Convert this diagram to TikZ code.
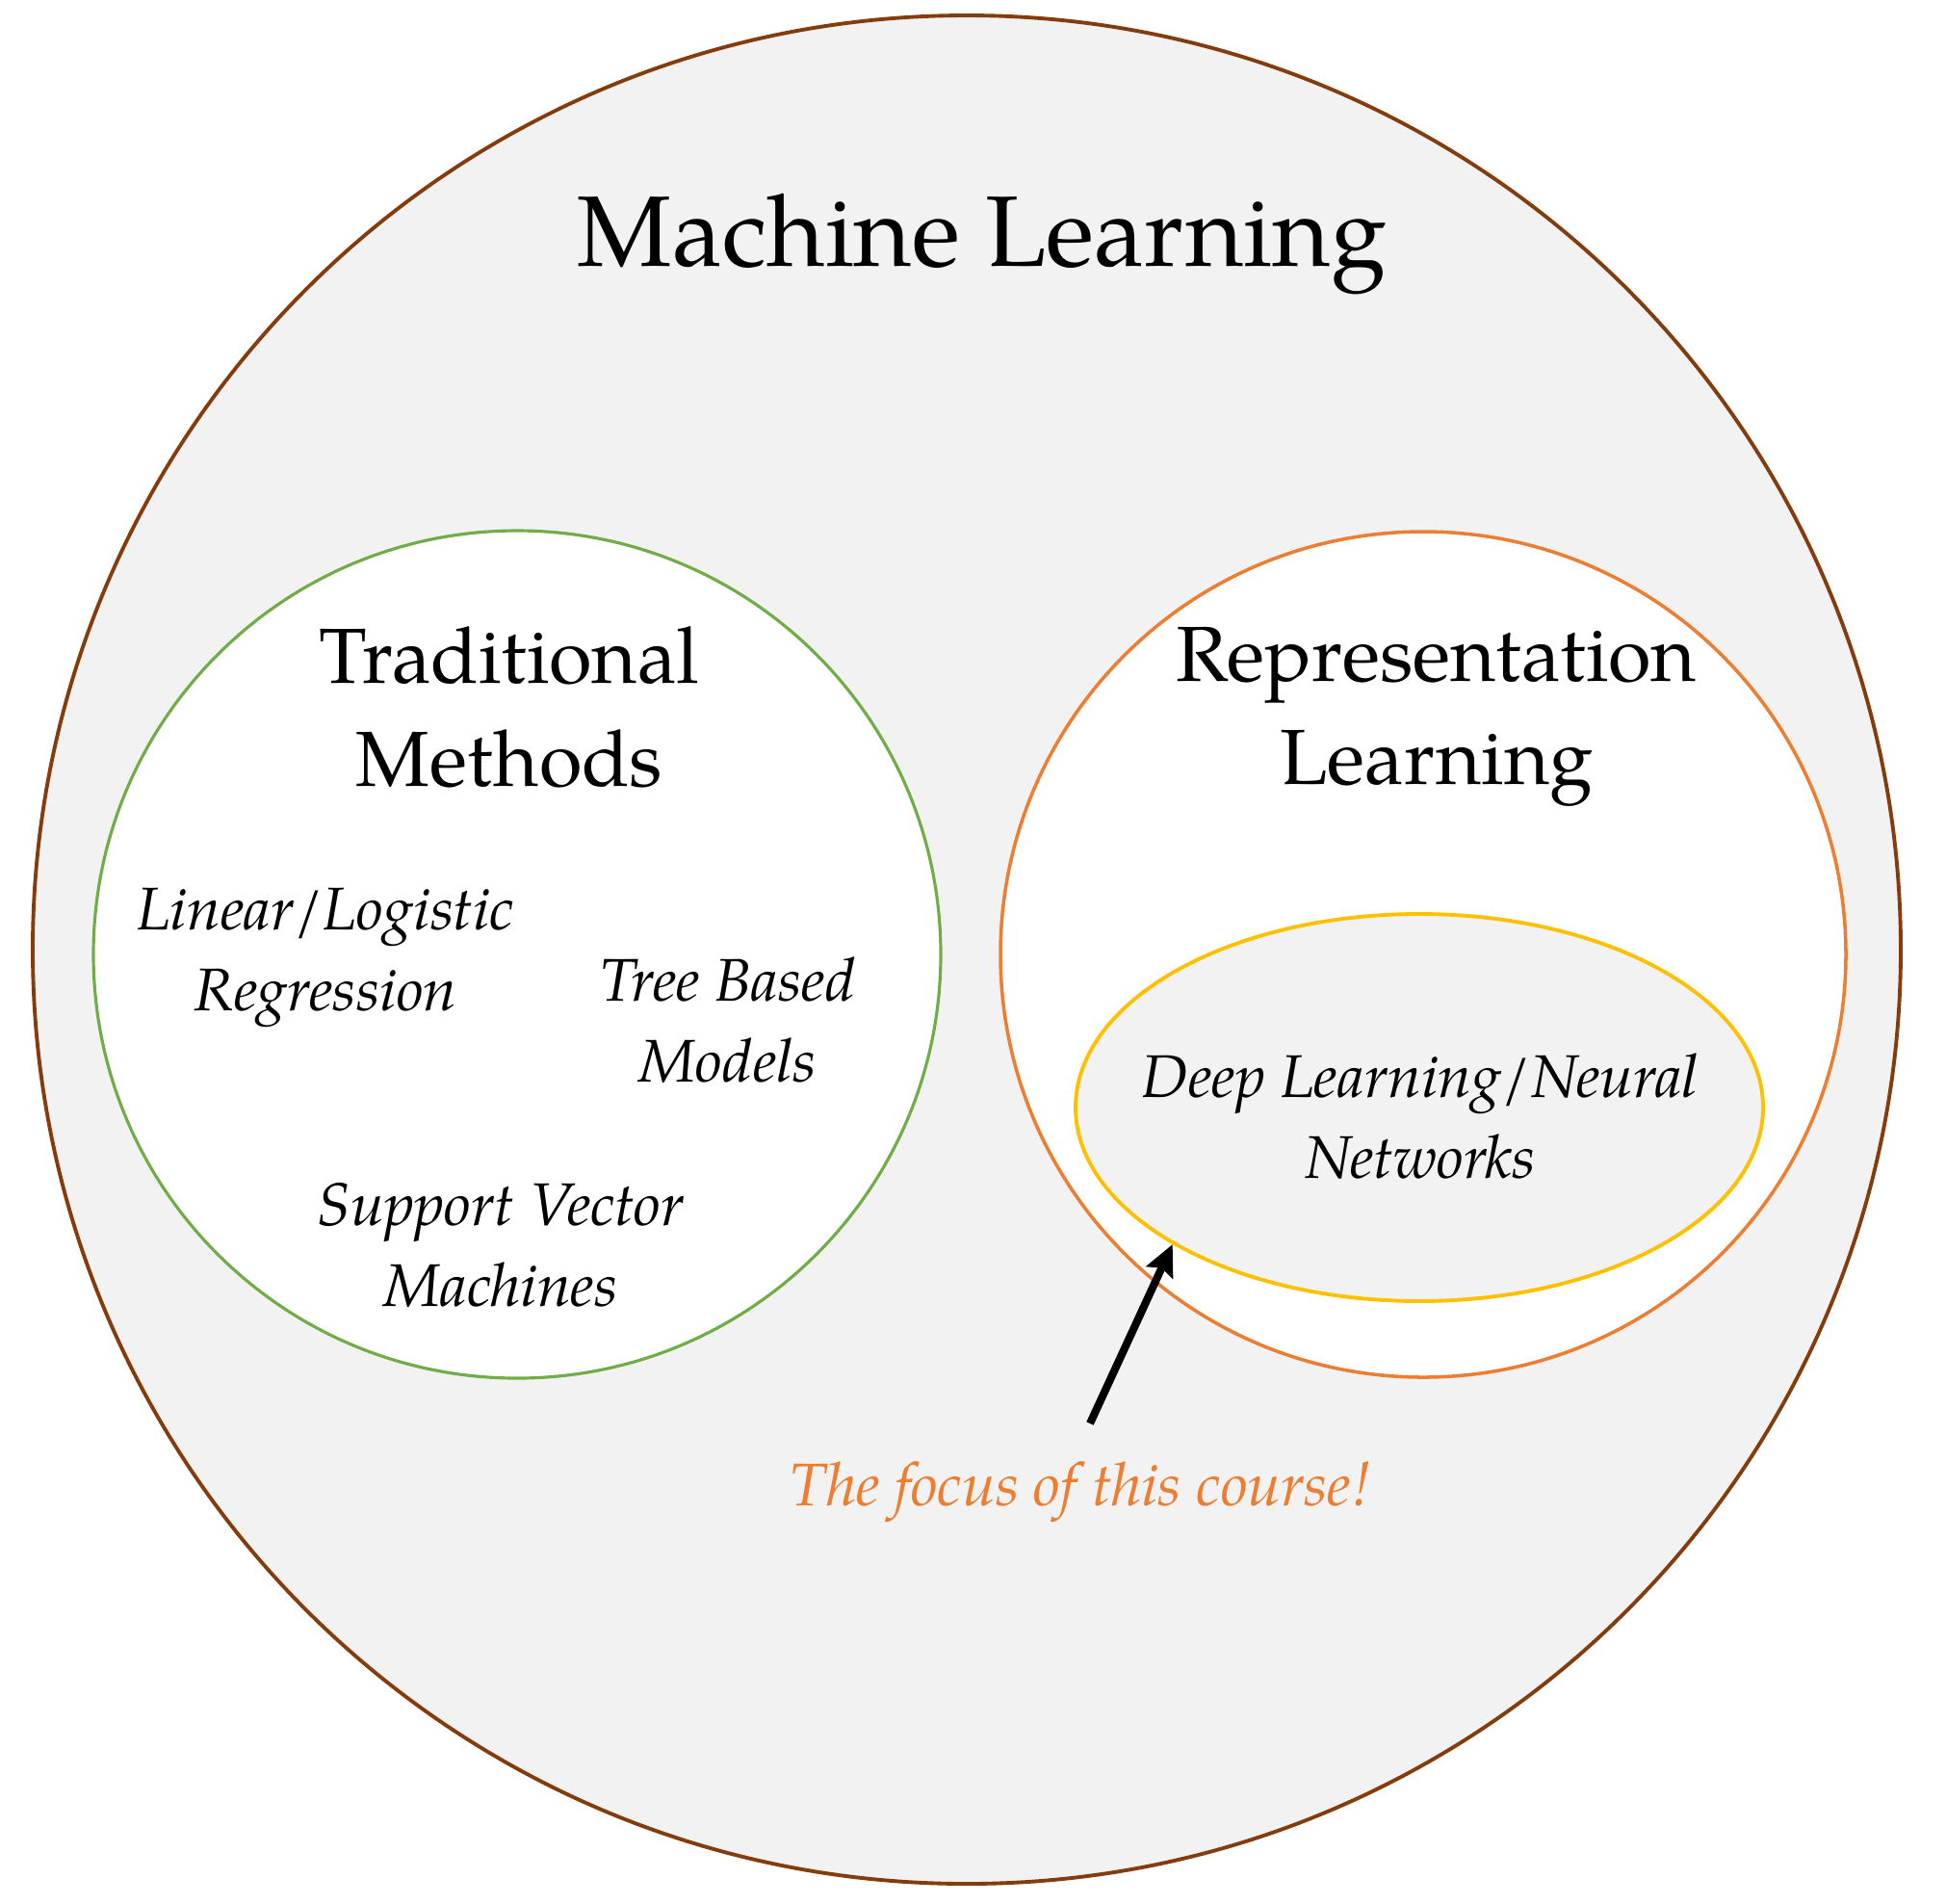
\documentclass[tikz,border=0pt]{standalone}
\usepackage{fontspec}
\setmainfont{TeX Gyre Pagella}
\usetikzlibrary{shapes.geometric,arrows.meta}
\definecolor{mlbrown}{HTML}{843C0C}
\definecolor{mlgray}{HTML}{F2F2F2}
\definecolor{tradgreen}{HTML}{70AD47}
\definecolor{reprorange}{HTML}{ED7D31}
\definecolor{deepyellow}{HTML}{FFC000}
\begin{document}
\begin{tikzpicture}[x=1cm,y=-1cm,
  ring/.style={circle,inner sep=0pt},
  heading/.style={align=center,font=\fontsize{23.1}{30.4}\selectfont},
  method/.style={align=center,font=\fontsize{17.8}{23.9}\selectfont\itshape},
  focusarrow/.style={line width=2.3pt,-{Stealth[length=0.32cm,width=0.3cm,inset=0.05cm]}}]
\useasboundingbox[fill=white] (0,0) rectangle (20.21,19.76);
\node[ring,draw=mlbrown,line width=1.1pt,fill=mlgray,minimum size=19.40cm] (ml) at (10.04,9.86) {};
\node[ring,draw=tradgreen,line width=0.9pt,fill=white,minimum size=8.80cm] (trad) at (5.37,9.91) {};
\node[ring,draw=reprorange,line width=1pt,fill=white,minimum size=8.78cm] (repr) at (14.78,9.91) {};
\node[ellipse,inner sep=0pt,draw=deepyellow,line width=1.1pt,fill=mlgray,minimum width=7.14cm,minimum height=4.02cm] (deep) at (14.74,11.50) {};
\node[anchor=base,font=\fontsize{29.6}{36}\selectfont] (mltitle) at (10.20,2.76) {Machine Learning};
\node[heading] (tradtitle) at (5.29,7.34) {Traditional\\Methods};
\node[heading] (reprtitle) at (14.92,7.44) {Representation\\Learning};
\node[method] (linear) at (3.38,9.94) {Linear/Logistic\\Regression};
\node[method] (tree) at (7.56,10.59) {Tree Based\\Models};
\node[method] (svm) at (5.20,12.93) {Support Vector\\Machines};
\node[method] (deeptext) at (14.75,11.59) {Deep Learning/Neural\\Networks};
\node[anchor=base,font=\fontsize{17.8}{23.9}\selectfont\itshape,text=reprorange] (focus) at (11.22,15.63) {The focus of this course!};
\coordinate (focustail) at (11.32,14.78);
\draw[focusarrow] (focustail) -- (deep.209);
\end{tikzpicture}
\end{document}
